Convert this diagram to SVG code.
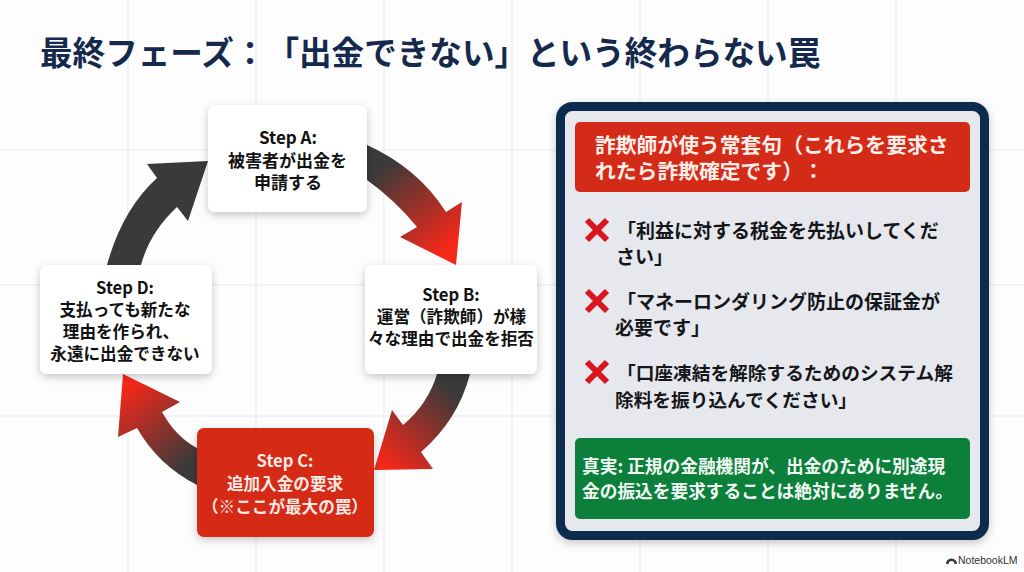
<svg xmlns="http://www.w3.org/2000/svg" width="1024" height="572" viewBox="0 0 1024 572">
<style>
text{font-family:"Noto Sans CJK JP","Noto Sans",sans-serif;font-weight:700;text-spacing-trim:space-all}
.nt{font-size:16.6px;fill:#111;text-anchor:middle}
.it{font-size:19px;fill:#14161a}
.grid line{stroke:#eceef3;stroke-width:1.5}
.x{stroke:#d9151d;stroke-width:6;fill:none}
</style>
<defs>
<filter id="sh" x="-15%" y="-15%" width="130%" height="135%"><feDropShadow dx="0" dy="3" stdDeviation="4" flood-color="#000" flood-opacity=".22"/></filter>
<linearGradient id="g1" gradientUnits="userSpaceOnUse" x1="385" y1="165" x2="450" y2="245"><stop offset="0" stop-color="#3a3a3a"/><stop offset="1" stop-color="#f5281a"/></linearGradient>
<linearGradient id="g2" gradientUnits="userSpaceOnUse" x1="450" y1="390" x2="385" y2="465"><stop offset="0" stop-color="#3a3a3a"/><stop offset="1" stop-color="#f5281a"/></linearGradient>
<linearGradient id="g3" gradientUnits="userSpaceOnUse" x1="188" y1="465" x2="128" y2="385"><stop offset="0" stop-color="#3a3a3a"/><stop offset="1" stop-color="#f5281a"/></linearGradient>
</defs>
<rect width="1024" height="572" fill="#fdfdfe"/>
<g class="grid">
<line x1="128" y1="0" x2="128" y2="572"/><line x1="256" y1="0" x2="256" y2="572"/><line x1="384" y1="0" x2="384" y2="572"/><line x1="512" y1="0" x2="512" y2="572"/><line x1="640" y1="0" x2="640" y2="572"/><line x1="768" y1="0" x2="768" y2="572"/><line x1="896" y1="0" x2="896" y2="572"/>
<line x1="0" y1="150" x2="1024" y2="150"/><line x1="0" y1="285" x2="1024" y2="285"/><line x1="0" y1="416" x2="1024" y2="416"/>
</g>
<text id="title" x="40" y="65" font-size="32.6" fill="#15294d">最終フェーズ：「出金できない」という終わらない罠</text>
<g id="connectors">
<path id="a-b" fill="url(#g1)" d="M367,145Q418,168 446,212L462,202L456,265L400,237L417,227Q395,200 367,180Z"/>
<path id="b-c" fill="url(#g2)" d="M470,374Q458,420 421,452L433,469L374,470L392,410L403,425Q428,404 437,374Z"/>
<path id="c-d" fill="url(#g3)" d="M197,448Q176,437 162,412L180,402L123,374L118,437L137,428Q158,465 197,485Z"/>
<path id="d-a" fill="#3a3a3a" d="M107,265Q122,210 157,178L147,164L208,161L188,221L177,207Q150,232 141,265Z"/>
</g>
<g id="step-a"><rect x="208" y="105" width="159" height="107" rx="7" fill="#fff" filter="url(#sh)"/>
<text class="nt" x="288" y="144" style="font-size:17px">Step A:</text><text class="nt" x="287.500" y="167" style="font-size:17px">被害者が出金を</text><text class="nt" x="288" y="189" style="font-size:17px">申請する</text></g>
<g id="step-b"><rect x="365" y="265" width="172" height="109" rx="7" fill="#fff" filter="url(#sh)"/>
<text class="nt" x="451" y="301">Step B:</text><text class="nt" x="451.500" y="323">運営（詐欺師）が様</text><text class="nt" x="451" y="345">々な理由で出金を拒否</text></g>
<g id="step-c"><rect x="197" y="428" width="177" height="109" rx="7" fill="#d42b18" filter="url(#sh)"/>
<text class="nt" x="285" y="467" style="fill:#fde9e4">Step C:</text><text class="nt" x="285" y="490" style="fill:#fde9e4">追加入金の要求</text><text class="nt" x="285" y="513" style="fill:#fde9e4">（※ここが最大の罠）</text></g>
<g id="step-d"><rect x="40" y="265" width="172" height="109" rx="7" fill="#fff" filter="url(#sh)"/>
<text class="nt" x="125" y="294">Step D:</text><text class="nt" x="125" y="316">支払っても新たな</text><text class="nt" x="121" y="338">理由を作られ、</text><text class="nt" x="125" y="360">永遠に出金できない</text></g>
<g id="panel">
<rect x="560.500" y="106.500" width="424" height="429" rx="12" fill="#e6e8ed" stroke="#0e2a50" stroke-width="9" filter="url(#sh)"/>
<g id="panel-header"><rect x="575" y="122" width="395" height="70" rx="5" fill="#d42b18"/>
<text x="595" y="153" font-size="20.800" fill="#fdeee9">詐欺師が使う常套句（これらを要求さ</text><text x="595" y="179" font-size="20.800" fill="#fdeee9">れたら詐欺確定です）：</text></g>
<g id="item-1"><path class="x" d="M587,220L607,240M607,220L587,240"/><text class="it" x="617" y="238">「利益に対する税金を先払いしてくだ</text><text class="it" x="616" y="264">さい」</text></g>
<g id="item-2"><path class="x" d="M587,291L607,311M607,291L587,311"/><text class="it" x="617" y="309">「マネーロンダリング防止の保証金が</text><text class="it" x="615" y="335">必要です」</text></g>
<g id="item-3"><path class="x" d="M587,362L607,382M607,362L587,382"/><text class="it" x="617" y="380" style="font-size:18.7px">「口座凍結を解除するためのシステム解</text><text class="it" x="615" y="407" style="font-size:18.7px">除料を振り込んでください」</text></g>
<g id="panel-footer"><rect x="575" y="438" width="395" height="81" rx="5" fill="#0c7f3b"/>
<text x="582" y="473" font-size="17.700" fill="#f1f8f3">真実: 正規の金融機関が、出金のために別途現</text><text x="582" y="498" font-size="17.700" fill="#f1f8f3">金の振込を要求することは絶対にありません。</text></g>
</g>
<g id="brand"><path d="M946,564a5.500,5.500 0 0 1 11,0h-2.500a3,3 0 0 0 -6,0z" fill="#333"/><text x="958" y="564" font-size="10.500" style="font-family:'Liberation Sans',sans-serif;font-weight:400" fill="#333">NotebookLM</text></g>
</svg>
